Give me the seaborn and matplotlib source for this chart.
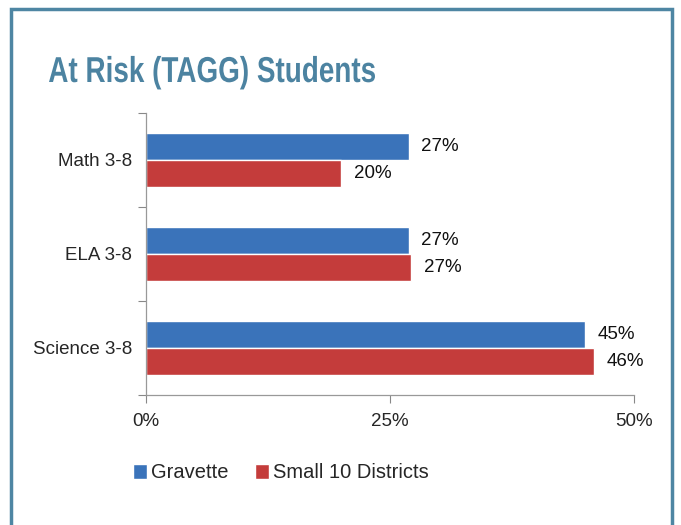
import matplotlib
matplotlib.use("Agg")
import matplotlib.pyplot as plt
from matplotlib.patches import Rectangle, PathPatch
from matplotlib.textpath import TextPath
from matplotlib.font_manager import FontProperties
from matplotlib.transforms import Affine2D
import pandas as pd
import seaborn as sns

# Data
subjects = ["Math 3-8", "ELA 3-8", "Science 3-8"]
gravette = [26.9, 26.9, 45.0]
small10 = [20.0, 27.2, 45.9]
series = ["Gravette", "Small 10 Districts"]
colors = ["#3a73ba", "#c43c3b"]
xticks = [0, 25, 50]
title = "At Risk (TAGG) Students"

df = pd.DataFrame({
    "subject": subjects * 2,
    "value": gravette + small10,
    "group": [series[0]] * 3 + [series[1]] * 3,
})

sns.set_theme(style="white")
plt.rcParams["font.family"] = ["Liberation Sans", "DejaVu Sans"]

fig = plt.figure(figsize=(6.81, 5.25), dpi=100)
ax = fig.add_axes([146 / 681, 1 - 395 / 525, (634 - 146) / 681, (395 - 113) / 525])

sns.barplot(data=df, y="subject", x="value", hue="group", orient="h",
            palette=colors, width=0.574, ax=ax, legend=True, saturation=1)

# value labels
for cont in ax.containers:
    ax.bar_label(cont, labels=[f"{v:.0f}%" for v in cont.datavalues],
                 padding=9, fontsize=13.5, color="#111111")

ax.set_xlim(0, 50)
ax.set_ylim(2.5, -0.5)
ax.set_xticks(xticks)
ax.set_xticklabels([f"{t}%" for t in xticks], fontsize=13.5)
ax.set_xlabel("")
ax.set_ylabel("")
ax.set_yticks(range(len(subjects)))
ax.set_yticklabels(subjects, fontsize=13.5)
ax.set_yticks([-0.5, 0.5, 1.5, 2.5], minor=True)
ax.tick_params(axis="y", which="major", length=0, pad=10)
ax.tick_params(axis="y", which="minor", length=6, width=0.8, color="#888888", left=True)
ax.tick_params(axis="x", length=6, width=0.8, color="#888888", bottom=True, pad=7)

for s in ["top", "right"]:
    ax.spines[s].set_visible(False)
for s in ["left", "bottom"]:
    ax.spines[s].set_color("#999999")
    ax.spines[s].set_linewidth(0.9)

# legend below
h, l = ax.get_legend_handles_labels()
ax.legend_.remove()
fig.legend(h, l, loc="center", bbox_to_anchor=(281 / 681, 1 - 473 / 525), ncol=2,
           frameon=False, fontsize=14.5, handlelength=0.7, handleheight=0.7,
           handletextpad=0.2, columnspacing=1.3)

# title in a condensed bold look: squeeze a bold text path horizontally
tp = TextPath((0, 0), title, size=36, prop=FontProperties(family="Liberation Sans", weight="bold"))
bb = tp.get_extents()
sx = (375 - 49) / bb.width
tr = Affine2D().scale(sx, 1).translate(49 - bb.x0 * sx, 525 - 82)
fig.add_artist(PathPatch(tp, transform=tr, facecolor="#4c83a1", edgecolor="none"))

# frame around the slide
fig.patches.append(Rectangle((11 / 681, -0.05), (672 - 11) / 681, 1.05 - 9 / 525,
                             transform=fig.transFigure, fill=False,
                             edgecolor="#4e86a3", linewidth=2.5, clip_on=False))

fig.savefig("out.png", dpi=100)
